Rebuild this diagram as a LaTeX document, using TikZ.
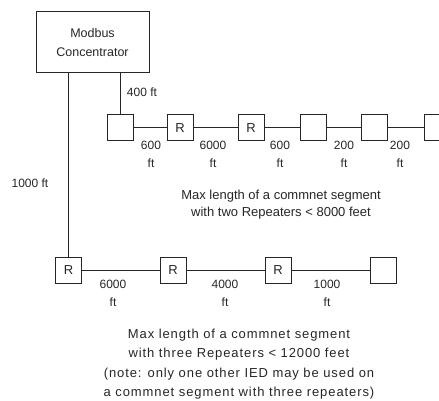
\documentclass[tikz,border=0pt]{standalone}
\usepackage{fontspec}
\setmainfont{Liberation Sans}
\newfontfamily\spacedfont[LetterSpace=7]{Liberation Sans}
\begin{document}
\begin{tikzpicture}[x=1pt,y=-1pt,
  box/.style={draw=black!85, line width=1pt, inner sep=0pt, minimum width=26pt, minimum height=26pt, font=\fontsize{13}{13}\selectfont, text=black!85},
  lbl/.style={align=center, inner sep=0pt, font=\fontsize{12}{18}\selectfont, text=black!85},
  wire/.style={line width=1pt, draw=black!85}]
\useasboundingbox (0,0) rectangle (439,401);
\node[draw=black!85, line width=1pt, minimum width=113pt, minimum height=61pt, inner sep=0pt, align=center, text=black!85, font=\fontsize{12.5}{19}\selectfont] (mc) at (92.5,42.5) {Modbus\\Concentrator};
% row 1
\node[box] (a1) at (120,128) {};
\node[box] (a2) at (180,128) {R};
\node[box] (a3) at (251,128) {R};
\node[box] (a4) at (313,128) {};
\node[box] (a5) at (374,128) {};
\node[box] (a6) at (437,128) {};
% row 2
\node[box] (b1) at (68.5,270) {R};
\node[box] (b2) at (173,270) {R};
\node[box] (b3) at (278,270) {R};
\node[box] (b4) at (383,270) {};
% wires
\draw[wire] (a1 |- mc.south) -- (a1.north);
\draw[wire] (b1 |- mc.south) -- (b1.north);
\draw[wire] (a1) -- (a2) -- (a3) -- (a4) -- (a5) -- (a6);
\draw[wire] (b1) -- (b2) -- (b3) -- (b4);
% labels
\node[lbl] (l400) at (142,92) {400 ft};
\node[lbl] (l1000) at (30,183) {1000 ft};
\node[lbl] (r1) at (151,154) {600\\ft};
\node[lbl] (r2) at (213,154) {6000\\ft};
\node[lbl] (r3) at (280,154) {600\\ft};
\node[lbl] (r4) at (344,154) {200\\ft};
\node[lbl] (r5) at (400,154) {200\\ft};
\node[lbl] (s1) at (113,293.5) {6000\\ft};
\node[lbl] (s2) at (225,293.5) {4000\\ft};
\node[lbl] (s3) at (327,293.5) {1000\\ft};
\node[lbl, font=\fontsize{13}{17}\selectfont] (t1) at (281,204.5) {Max length of a commnet segment\\with two Repeaters < 8000 feet};
\node[lbl, font=\spacedfont\fontsize{13}{19.4}\selectfont] (t2) at (239,364) {Max length of a commnet segment\\with three Repeaters < 12000 feet\\(note: only one other IED may be used on\\a commnet segment with three repeaters)};
\end{tikzpicture}
\end{document}
